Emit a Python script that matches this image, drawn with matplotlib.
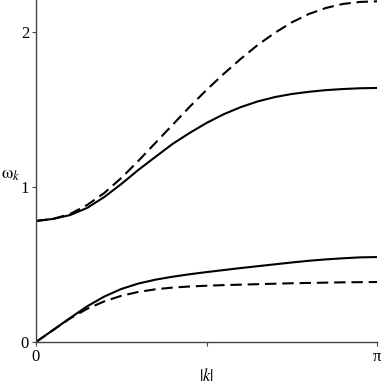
import numpy as np
import matplotlib
matplotlib.use('Agg')
import matplotlib.pyplot as plt

plt.rcParams['font.family'] = ['Liberation Serif', 'DejaVu Serif']
plt.rcParams['mathtext.fontset'] = 'stix'

# k in units of pi, step 0.05
k_frac = np.arange(21) * 0.05

upper_solid = [0.781, 0.794, 0.819, 0.865, 0.935, 1.019, 1.110, 1.194, 1.277, 1.348,
               1.413, 1.469, 1.515, 1.552, 1.580, 1.600, 1.614, 1.625, 1.632, 1.637, 1.639]
upper_dashed = [0.781, 0.794, 0.826, 0.884, 0.961, 1.058, 1.168, 1.284, 1.400, 1.516,
                1.626, 1.729, 1.826, 1.916, 1.994, 2.062, 2.116, 2.155, 2.181, 2.194, 2.198]
lower_solid = [0.0, 0.077, 0.155, 0.230, 0.293, 0.342, 0.377, 0.402, 0.421, 0.437,
               0.451, 0.464, 0.477, 0.489, 0.501, 0.513, 0.524, 0.533, 0.540, 0.546, 0.548]
lower_dashed = [0.0, 0.077, 0.152, 0.214, 0.262, 0.298, 0.323, 0.340, 0.351, 0.358,
                0.363, 0.367, 0.370, 0.373, 0.376, 0.379, 0.381, 0.383, 0.385, 0.386, 0.387]

k = k_frac * np.pi

fig = plt.figure(figsize=(3.81, 3.86), dpi=100)
ax = fig.add_axes([36/381, 44/386, 341/381, 342/386])

lw = 1.5
ax.plot(k, upper_solid, 'k-', lw=lw)
ax.plot(k, lower_solid, 'k-', lw=lw)
ax.plot(k, upper_dashed, 'k--', lw=lw, dashes=(5.5, 2.8))
ax.plot(k, lower_dashed, 'k--', lw=lw, dashes=(5.5, 2.8))

ax.set_xlim(0, np.pi)
ax.set_ylim(0, 342/155)

for s in ['top', 'right']:
    ax.spines[s].set_visible(False)
for s in ['left', 'bottom']:
    ax.spines[s].set_color('#444444')
    ax.spines[s].set_linewidth(1.0)

ax.set_xticks([0, np.pi/2, np.pi])
ax.set_xticklabels(['0', '', 'π'])
ax.set_yticks([0, 1, 2])
ax.set_yticklabels(['0', '1', '2'])
ax.tick_params(direction='out', length=3, width=0.8, color='#444444',
               labelsize=12, pad=2)

ax.set_ylabel(r'$\mathrm{\omega}_k$', rotation=0, fontsize=13, va='center', ha='center')
ax.yaxis.set_label_coords(-0.075, 0.49)
ax.set_xlabel(r'$|k|$', fontsize=12, va='center')
ax.xaxis.set_label_coords(0.5, -0.10)

fig.savefig('out.png', dpi=100)
